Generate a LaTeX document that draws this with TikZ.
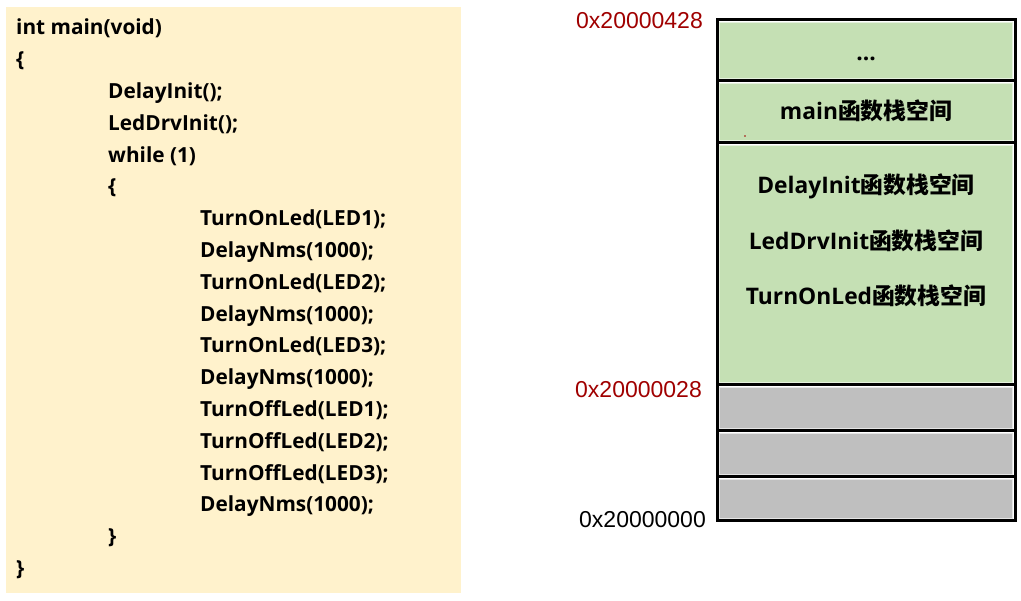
\documentclass[tikz,border=0pt]{standalone}
\usepackage{fontspec}
\setmainfont{Open Sans}
\newfontfamily\cjk{Noto Sans CJK SC}
\newfontfamily\addrfont{Liberation Sans}
\definecolor{panel}{HTML}{FFF2CC}
\definecolor{stackgreen}{HTML}{C5E0B4}
\definecolor{stackgray}{HTML}{BFBFBF}
\definecolor{addrred}{HTML}{A00000}
\begin{document}
\begin{tikzpicture}[x=1pt,y=-1pt,
  codeline/.style={anchor=base west,inner sep=0pt,font=\fontsize{20.8}{24}\selectfont\bfseries},
  celltext/.style={anchor=base,inner sep=0pt,font=\fontsize{22.8}{26}\selectfont\bfseries},
  addr/.style={anchor=base west,inner sep=0pt,font=\addrfont\fontsize{23}{26}\selectfont},
  greencell/.style={fill=stackgreen,draw=white!55!stackgreen,line width=1pt},
  graycell/.style={fill=stackgray,draw=white!60!stackgray,line width=1pt},
  sep/.style={line width=3pt,black}]
\useasboundingbox (0,0) rectangle (1021,601);
\fill[white] (0,0) rectangle (1021,601);
% code panel
\node[fill=panel,inner sep=0pt,minimum width=455pt,minimum height=586pt,anchor=north west] (panel) at (6,7) {};
\node[codeline] (l0)  at (16,35)    {int main(void)};
\node[codeline] (l1)  at (16,66.8)  {\{};
\node[codeline] (l2)  at (108,98.6) {DelayInit();};
\node[codeline] (l3)  at (108,130.4){LedDrvInit();};
\node[codeline] (l4)  at (108,162.2){while (1)};
\node[codeline] (l5)  at (108,194)  {\{};
\node[codeline] (l6)  at (200,225.8){TurnOnLed(LED1);};
\node[codeline] (l7)  at (200,257.6){DelayNms(1000);};
\node[codeline] (l8)  at (200,289.4){TurnOnLed(LED2);};
\node[codeline] (l9)  at (200,321.2){DelayNms(1000);};
\node[codeline] (l10) at (200,353)  {TurnOnLed(LED3);};
\node[codeline] (l11) at (200,384.8){DelayNms(1000);};
\node[codeline] (l12) at (200,416.6){TurnOffLed(LED1);};
\node[codeline] (l13) at (200,448.4){TurnOffLed(LED2);};
\node[codeline] (l14) at (200,480.2){TurnOffLed(LED3);};
\node[codeline] (l15) at (200,512)  {DelayNms(1000);};
\node[codeline] (l16) at (108,543.8){\}};
\node[codeline] (l17) at (16,575.6) {\}};
% stack cells
\draw[greencell] (719.5,22.5) rectangle (1012.5,78.5);
\draw[greencell] (719.5,83.5) rectangle (1012.5,140.5);
\draw[greencell] (719.5,145.5) rectangle (1012.5,382.5);
\draw[graycell] (719.5,387.5) rectangle (1012.5,428.5);
\draw[graycell] (719.5,433.5) rectangle (1012.5,474.5);
\draw[graycell] (719.5,479.5) rectangle (1012.5,518.5);
\draw[sep] (717,81) -- (1015,81);
\draw[sep] (717,143) -- (1015,143);
\draw[sep] (717,385) -- (1015,385);
\draw[sep] (717,431) -- (1015,431);
\draw[sep] (717,477) -- (1015,477);
\draw[sep] (717,20) rectangle (1015,521);
\fill[addrred] (745,136) circle (0.9pt);
% cell texts
\node[celltext] (t0) at (866,61) {...};
\node[celltext] (t1) at (866,120) {main{\cjk\bfseries 函数栈空间}};
\node[celltext] (t2) at (866,194) {DelayInit{\cjk\bfseries 函数栈空间}};
\node[celltext] (t3) at (866,250) {LedDrvInit{\cjk\bfseries 函数栈空间}};
\node[celltext] (t4) at (866,305) {TurnOnLed{\cjk\bfseries 函数栈空间}};
% addresses
\node[addr,text=addrred] (a0) at (576,29) {0x20000428};
\node[addr,text=addrred] (a1) at (575,398) {0x20000028};
\node[addr] (a2) at (579,528) {0x20000000};
\end{tikzpicture}
\end{document}
